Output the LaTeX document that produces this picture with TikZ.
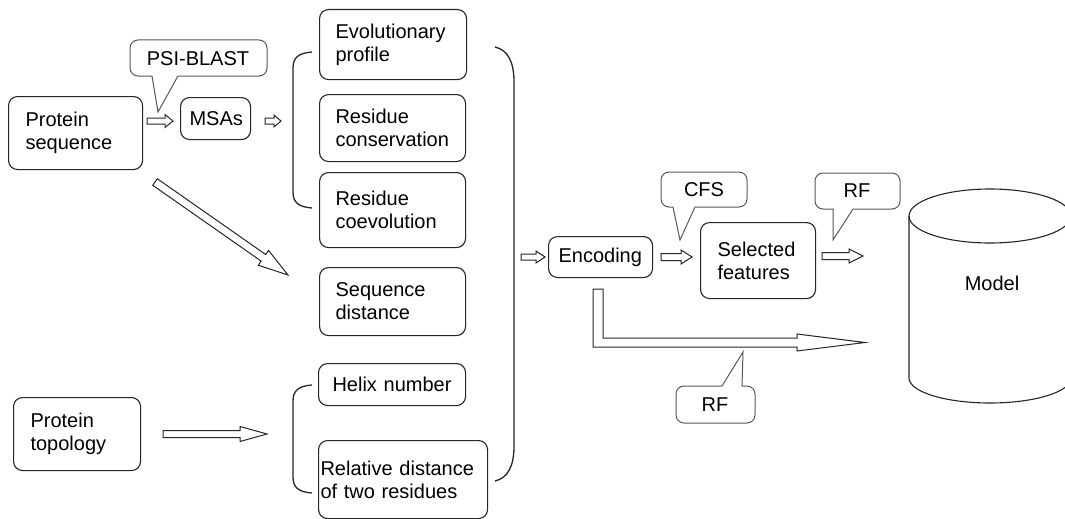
\documentclass[tikz,border=0pt]{standalone}
\usepackage{fontspec}
\setmainfont{Liberation Sans}
\usetikzlibrary{calc}
% hollow arrow: #1 start, #2 end, #3 shaft half width, #4 head half width, #5 head length
\newcommand\harrow[5]{%
  \path[harr] let \p1=#1, \p2=#2,
     \n1={atan2(\y2-\y1,\x2-\x1)}, \n2={veclen(\x2-\x1,\y2-\y1)} in
     ($(\p1)+(\n1+90:#3pt)$) -- ($(\p1)+(\n1:\n2-#5pt)+(\n1+90:#3pt)$)
     -- ($(\p1)+(\n1:\n2-#5pt)+(\n1+90:#4pt)$) -- (\p2)
     -- ($(\p1)+(\n1:\n2-#5pt)+(\n1-90:#4pt)$)
     -- ($(\p1)+(\n1:\n2-#5pt)+(\n1-90:#3pt)$)
     -- ($(\p1)+(\n1-90:#3pt)$) -- cycle;}
\begin{document}
\begin{tikzpicture}[x=1pt,y=-1pt,font=\fontsize{20}{23}\selectfont,
  box/.style={draw=black!85,line width=1.1pt,rounded corners=9pt,anchor=north west,align=left,inner ysep=0pt,
     execute at begin node={\hyphenpenalty=10000 }},
  callout/.style={draw=black!65,line width=1pt,fill=white,line join=miter},
  harr/.style={draw=black!85,line width=1pt,fill=white,line join=miter},
  bracket/.style={draw=black!85,line width=1.3pt}]
\useasboundingbox[fill=white] (0,0) rectangle (1065,519);

% boxes
\node[box,inner xsep=17pt,text width=100pt,minimum height=73pt] (seq) at (8,96) {Protein\\sequence};
\node[box,inner xsep=9pt,text width=52pt,minimum height=42pt] (msa) at (180,97) {MSAs};
\node[box,inner xsep=16pt,text width=115pt,minimum height=70pt] (evo) at (319,9) {Evolutionary\\profile};
\node[box,inner xsep=16pt,text width=114pt,minimum height=67pt] (cons) at (319,94) {Residue\\conservation};
\node[box,inner xsep=16pt,text width=114pt,minimum height=75pt] (coev) at (319,172) {Residue\\coevolution};
\node[box,inner xsep=16pt,text width=114pt,minimum height=68pt] (seqd) at (319,267) {Sequence\\distance};
\node[box,inner xsep=14pt,text width=119pt,minimum height=42pt] (helix) at (318,363) {Helix number};
\node[box,inner xsep=2pt,text width=165pt,minimum height=78pt] (rel) at (318,440) {Relative distance\\of two residues};
\node[box,inner xsep=17pt,text width=93pt,minimum height=73pt] (topo) at (13,397) {Protein\\topology};
\node[box,inner xsep=10pt,text width=84pt,minimum height=41pt] (enc) at (548,236) {Encoding};
\node[box,inner xsep=17pt,text width=81pt,minimum height=76pt] (sel) at (700,222) {Selected\\features};

% brackets
\draw[bracket] (312,52) .. controls (298,53) and (293,58) .. (293,68) -- (293,192)
   .. controls (293,202) and (298,207) .. (312,208);
\draw[bracket] (312,385) .. controls (298,386) and (293,391) .. (293,401) -- (293,477)
   .. controls (293,487) and (298,492) .. (312,493);
\draw[bracket] (495,47) .. controls (508,50) and (514,62) .. (514,82) -- (514,446)
   .. controls (514,466) and (508,478) .. (495,481);

% callouts
\draw[callout] (158,112) -- (152,76) [rounded corners=8pt] -- (130,76) -- (130,40) -- (267,40) -- (267,76) [sharp corners] -- (178,76) -- cycle;
\node (psi) at (198,59) {PSI-BLAST};
\draw[callout] (680,240) -- (673,207) [rounded corners=8pt] -- (661,207) -- (661,172) -- (747,172) -- (747,207) [sharp corners] -- (695,207) -- cycle;
\node (cfs) at (704,190) {CFS};
\draw[callout] (833,240) -- (833,209) [rounded corners=8pt] -- (815,209) -- (815,173) -- (900,173) -- (900,209) [sharp corners] -- (853,209) -- cycle;
\node (rf1) at (857,191) {RF};
\draw[callout] (743,352) -- (742,386) [rounded corners=8pt] -- (755,386) -- (755,423) -- (676,423) -- (676,386) [sharp corners] -- (722,386) -- cycle;
\node (rf2) at (715,405) {RF};

% cylinder
\draw[line width=1.1pt,draw=black!85] (909,216) -- (909,378)
   arc[start angle=180,end angle=360,x radius=81pt,y radius=25pt] -- (1071,216);
\draw[line width=1.1pt,draw=black!85] (990,216) ellipse[x radius=81pt,y radius=27pt];
\node (model) at (992,283) {Model};

% arrow end points
\coordinate (a1s) at (147,121); \coordinate (a1e) at (173,121);
\coordinate (a2s) at (265,121); \coordinate (a2e) at (281,121);
\coordinate (a3s) at (155,182); \coordinate (a3e) at (288,275);
\coordinate (a4s) at (163,434); \coordinate (a4e) at (267,434);
\coordinate (a5s) at (521,257); \coordinate (a5e) at (545,257);
\coordinate (a6s) at (661,257); \coordinate (a6e) at (692,257);
\coordinate (a7s) at (822,256); \coordinate (a7e) at (863,256);
\coordinate (lstart) at (593,289);

\harrow{(a1s)}{(a1e)}{3}{6.5}{8}
\harrow{(a2s)}{(a2e)}{3}{6}{7}
\harrow{(a3s)}{(a3e)}{4}{9}{30}
\harrow{(a4s)}{(a4e)}{3.5}{7.5}{27}
\harrow{(a5s)}{(a5e)}{3}{6}{9}
\harrow{(a6s)}{(a6e)}{3.5}{7}{11}
\harrow{(a7s)}{(a7e)}{3.5}{7}{14}
\path[harr] (lstart) -- ++(10,0) -- ++(0,49) -- ++(194,0) -- ++(0,-4) -- ++(68,8.5)
   -- ++(-68,8.5) -- ++(0,-4) -- ++(-204,0) -- cycle;
\end{tikzpicture}
\end{document}
